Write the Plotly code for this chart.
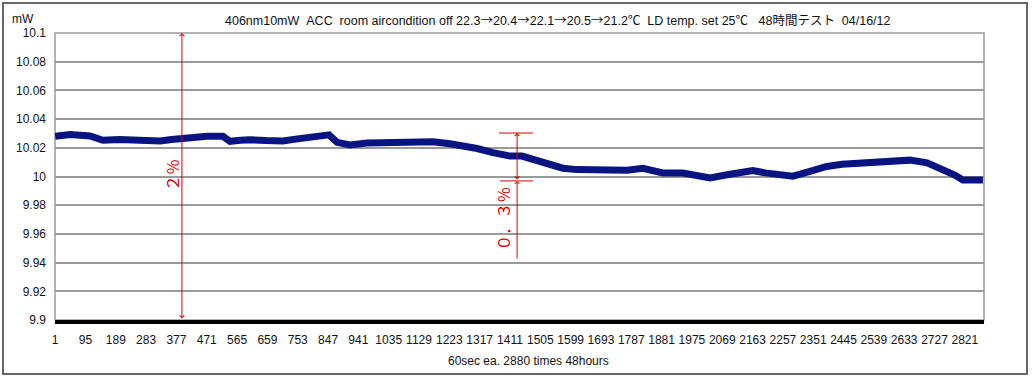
import plotly.graph_objects as go

# ---- data ----
sample_idx = [1, 47, 109, 149, 200, 242, 290, 326, 362, 397, 437, 472, 521, 543, 575,
              605, 655, 707, 752, 791, 825, 850, 875, 915, 968, 1020, 1070, 1120, 1172,
              1225, 1270, 1309, 1358, 1411, 1448, 1480, 1513, 1548, 1575, 1618, 1668,
              1725, 1774, 1823, 1855, 1885, 1947, 1995, 2031, 2084, 2124, 2164, 2202,
              2239, 2288, 2341, 2393, 2440, 2496, 2549, 2600, 2651, 2704, 2753, 2790,
              2815, 2845, 2877]
power_mw = [10.0280, 10.0292, 10.0282, 10.0252, 10.0258, 10.0256, 10.0250, 10.0247,
            10.0258, 10.0266, 10.0275, 10.0280, 10.0280, 10.0245, 10.0252, 10.0256,
            10.0250, 10.0247, 10.0262, 10.0270, 10.0285, 10.0290, 10.0238, 10.0220,
            10.0234, 10.0237, 10.0236, 10.0238, 10.0242, 10.0228, 10.0215, 10.0195,
            10.0166, 10.0142, 10.0142, 10.0120, 10.0094, 10.0070, 10.0058, 10.0048,
            10.0043, 10.0044, 10.0043, 10.0057, 10.0040, 10.0025, 10.0024, 10.0008,
            9.9990, 10.0012, 10.0030, 10.0042, 10.0025, 10.0012, 10.0002, 10.0035,
            10.0070, 10.0085, 10.0093, 10.0095, 10.0106, 10.0114, 10.0095, 10.0050,
            10.0010, 9.9975, 9.9972, 9.9975]

x_tick_vals = list(range(1, 2822, 94))
x_tick_text = [str(v) for v in x_tick_vals]
y_tick_vals = [9.9, 9.92, 9.94, 9.96, 9.98, 10.0, 10.02, 10.04, 10.06, 10.08, 10.1]
y_tick_text = ["9.9", "9.92", "9.94", "9.96", "9.98", "10", "10.02", "10.04", "10.06", "10.08", "10.1"]

ARW = "<span style=\"font-family:'Noto Sans CJK JP'\">→</span>"
title_text = ("406nm10mW\u00a0\u00a0ACC\u00a0\u00a0room aircondition off "
              "22.3" + ARW + "20.4" + ARW + "22.1" + ARW + "20.5" + ARW + "21.2℃"
              "\u00a0\u00a0LD temp. set 25℃\u00a0\u00a0\u00a0"
              "48時間テスト\u00a0\u00a004/16/12")
x_title = "60sec ea. 2880 times 48hours"

FONT = "Liberation Sans, Noto Sans CJK JP, sans-serif"
RED = "#d40000"
NAVY = "#0a1480"

# screen-pixel helpers for the plot area (left 55, right 984, top 33, bottom 320)
def px(s):
    return (s - 55) / 929

def py(s):
    return (320 - s) / 287

fig = go.Figure()
fig.add_trace(go.Scatter(x=sample_idx, y=power_mw, mode="lines",
                         line=dict(color=NAVY, width=7), hoverinfo="skip"))

fig.update_layout(
    width=1032, height=378,
    margin=dict(l=55, r=48, t=33, b=58),
    paper_bgcolor="white", plot_bgcolor="white",
    showlegend=False,
    font=dict(family=FONT, size=12, color="#111"),
)
fig.update_xaxes(range=[0.5, 2880.5], tickvals=x_tick_vals, ticktext=x_tick_text,
                 showgrid=False, zeroline=False, showline=True, linecolor="black",
                 linewidth=4, ticks="", ticklabelstandoff=6,
                 tickfont=dict(family=FONT, size=12))
fig.update_yaxes(range=[9.9, 10.1], tickvals=y_tick_vals, ticktext=y_tick_text,
                 showgrid=True, gridcolor="#9a9a9a", gridwidth=1.5, zeroline=False,
                 showline=False, ticks="", ticklabelstandoff=8,
                 tickfont=dict(family=FONT, size=12))

shapes = [
    dict(type="rect", xref="paper", yref="paper", x0=0, x1=1, y0=0, y1=1,
         line=dict(color="#9a9a9a", width=1.5), layer="below"),
    dict(type="rect", xref="paper", yref="paper",
         x0=px(3), x1=px(1027), y0=py(374), y1=py(3),
         line=dict(color="#666666", width=2)),
    dict(type="line", xref="x", yref="y", x0=1377, x1=1482, y0=10.0303, y1=10.0303,
         line=dict(color=RED, width=1)),
    dict(type="line", xref="x", yref="y", x0=1380, x1=1482, y0=9.9969, y1=9.9969,
         line=dict(color=RED, width=1)),
]
fig.update_layout(shapes=shapes)

annotations = [
    dict(text=title_text, xref="paper", yref="paper", x=px(558), y=py(20),
         showarrow=False, xanchor="center", yanchor="middle", font=dict(size=12.5)),
    dict(text="mW", xref="paper", yref="paper", x=px(10), y=py(19),
         showarrow=False, xanchor="left", yanchor="middle", font=dict(size=12)),
    dict(text=x_title, xref="paper", yref="paper", x=px(528), y=py(361),
         showarrow=False, xanchor="center", yanchor="middle", font=dict(size=12)),
    dict(x=394, y=10.1, ax=394, ay=9.9, xref="x", yref="y", axref="x", ayref="y",
         text="", showarrow=True, arrowside="end+start", arrowhead=4, startarrowhead=4,
         arrowsize=0.9, startarrowsize=0.9, arrowwidth=1, arrowcolor=RED),
    dict(text="２％", x=363, y=10.001, xref="x", yref="y", showarrow=False,
         textangle=-90, font=dict(color=RED, size=16, family="Noto Sans CJK JP")),
    dict(x=1433, y=10.0303, ax=1433, ay=9.9969, xref="x", yref="y", axref="x", ayref="y",
         text="", showarrow=True, arrowside="end+start", arrowhead=4, startarrowhead=4,
         arrowsize=0.9, startarrowsize=0.9, arrowwidth=1, arrowcolor=RED),
    dict(x=1433, y=9.9969, ax=1433, ay=9.9418, xref="x", yref="y", axref="x", ayref="y",
         text="", showarrow=True, arrowhead=4, arrowsize=0.9, arrowwidth=1, arrowcolor=RED),
    dict(text="０．３％", x=1389, y=9.9704, xref="x", yref="y", showarrow=False,
         textangle=-90, font=dict(color=RED, size=16, family="Noto Sans CJK JP")),
]
fig.update_layout(annotations=annotations)

fig.write_html("out.html", config={"displayModeBar": False},
               post_script="document.body.style.margin='0';")
